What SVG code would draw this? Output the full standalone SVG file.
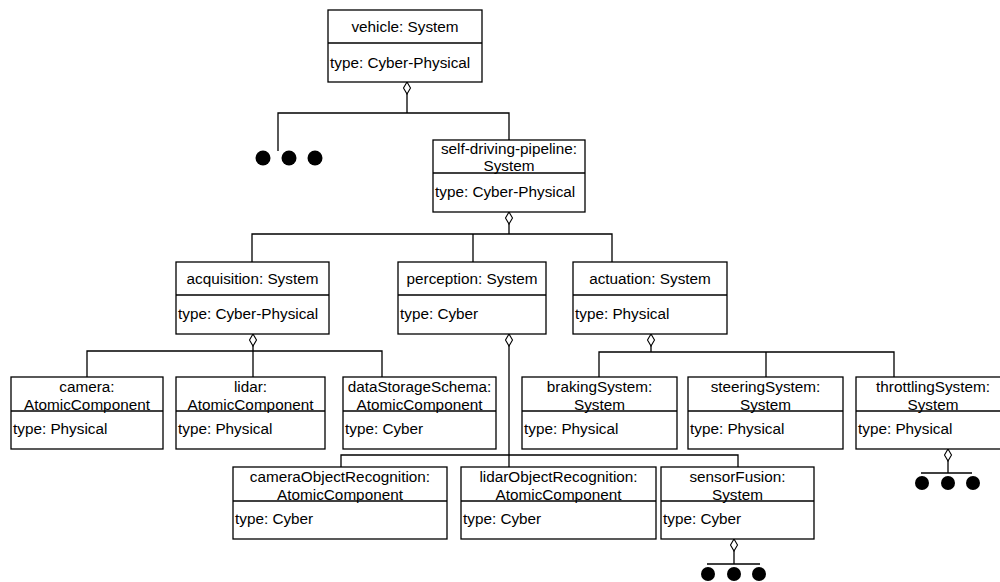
<svg xmlns="http://www.w3.org/2000/svg" width="1000" height="582" viewBox="0 0 1000 582">
<style>
  .box { fill: #ffffff; stroke: #000000; stroke-width: 1.3; }
  .div { stroke: #000000; stroke-width: 1.3; fill: none; }
  .hd { font-family: "Liberation Sans", Arial, Helvetica, sans-serif; font-size: 15.3px; fill: #000000; text-anchor: middle; }
  .at { font-family: "Liberation Sans", Arial, Helvetica, sans-serif; font-size: 15.3px; fill: #000000; text-anchor: start; }
  .ln { stroke: #000000; stroke-width: 1.3; fill: none; }
  .agg { stroke: #000000; stroke-width: 1.3; fill: none; marker-start: url(#diamond); }
  .dot { fill: #000000; }
</style>
<defs>
  <marker id="diamond" viewBox="-1 -1 14 9" refX="0" refY="3.5" markerWidth="14" markerHeight="9" markerUnits="userSpaceOnUse" orient="auto">
    <path d="M0 3.5 L6 0 L12 3.5 L6 7 Z" fill="#ffffff" stroke="#000000" stroke-width="1.1"/>
  </marker>
</defs>

<g id="connectors">
  <path class="agg" d="M407 82 V113"/>
  <path class="ln" d="M278 151 V113 H509 V140"/>
  <path class="agg" d="M509 212 V234"/>
  <path class="ln" d="M252 262 V234 H612 V262"/>
  <path class="ln" d="M473 234 V262"/>
  <path class="agg" d="M253 334 V351"/>
  <path class="ln" d="M87 377 V351 H382 V377"/>
  <path class="ln" d="M253 351 V377"/>
  <path class="agg" d="M509 334 V467"/>
  <path class="ln" d="M341 467 V455 H738 V467"/>
  <path class="agg" d="M651 334 V352"/>
  <path class="ln" d="M599 377 V352 H894 V377"/>
  <path class="ln" d="M766 352 V377"/>
  <path class="agg" d="M734 539 V564"/>
  <path class="ln" d="M707 564 H760"/>
  <path class="agg" d="M948 449 V473"/>
  <path class="ln" d="M921 473 H972"/>
</g>

<g id="more-vehicle">
  <circle class="dot" cx="263" cy="158" r="7.5"/>
  <circle class="dot" cx="289" cy="158" r="7.5"/>
  <circle class="dot" cx="315" cy="158" r="7.5"/>
</g>
<g id="more-sensorFusion">
  <circle class="dot" cx="708" cy="574" r="7"/>
  <circle class="dot" cx="734" cy="574" r="7"/>
  <circle class="dot" cx="759" cy="574" r="7"/>
</g>
<g id="more-throttling">
  <circle class="dot" cx="922" cy="483" r="7"/>
  <circle class="dot" cx="948" cy="483" r="7"/>
  <circle class="dot" cx="973" cy="483" r="7"/>
</g>

<g id="vehicle">
  <rect class="box" x="328" y="10" width="154" height="72"/>
  <line class="div" x1="328" y1="43" x2="482" y2="43"/>
  <text class="hd" x="405" y="32">vehicle: System</text>
  <text class="at" x="330" y="67.5">type: Cyber-Physical</text>
</g>

<g id="self-driving-pipeline">
  <rect class="box" x="433" y="140" width="152" height="72"/>
  <line class="div" x1="433" y1="173" x2="585" y2="173"/>
  <text class="hd" x="509" y="154">self-driving-pipeline:</text>
  <text class="hd" x="509" y="171">System</text>
  <text class="at" x="435" y="197">type: Cyber-Physical</text>
</g>

<g id="acquisition">
  <rect class="box" x="176" y="262" width="153" height="72"/>
  <line class="div" x1="176" y1="295" x2="329" y2="295"/>
  <text class="hd" x="252.5" y="284">acquisition: System</text>
  <text class="at" x="178" y="318.5">type: Cyber-Physical</text>
</g>

<g id="perception">
  <rect class="box" x="398" y="262" width="148" height="72"/>
  <line class="div" x1="398" y1="295" x2="546" y2="295"/>
  <text class="hd" x="472" y="284">perception: System</text>
  <text class="at" x="400" y="318.5">type: Cyber</text>
</g>

<g id="actuation">
  <rect class="box" x="573" y="262" width="154" height="72"/>
  <line class="div" x1="573" y1="295" x2="727" y2="295"/>
  <text class="hd" x="650" y="284">actuation: System</text>
  <text class="at" x="575" y="318.5">type: Physical</text>
</g>

<g id="camera">
  <rect class="box" x="11" y="377" width="152" height="72"/>
  <line class="div" x1="11" y1="411" x2="163" y2="411"/>
  <text class="hd" x="87" y="392">camera:</text>
  <text class="hd" x="87" y="409.5">AtomicComponent</text>
  <text class="at" x="13" y="433.5">type: Physical</text>
</g>

<g id="lidar">
  <rect class="box" x="176" y="377" width="149" height="72"/>
  <line class="div" x1="176" y1="411" x2="325" y2="411"/>
  <text class="hd" x="250.5" y="392">lidar:</text>
  <text class="hd" x="250.5" y="409.5">AtomicComponent</text>
  <text class="at" x="178" y="433.5">type: Physical</text>
</g>

<g id="dataStorageSchema">
  <rect class="box" x="343" y="377" width="153" height="72"/>
  <line class="div" x1="343" y1="411" x2="496" y2="411"/>
  <text class="hd" x="419.5" y="392">dataStorageSchema:</text>
  <text class="hd" x="419.5" y="409.5">AtomicComponent</text>
  <text class="at" x="345" y="433.5">type: Cyber</text>
</g>

<g id="brakingSystem">
  <rect class="box" x="522" y="377" width="155" height="72"/>
  <line class="div" x1="522" y1="411" x2="677" y2="411"/>
  <text class="hd" x="599.5" y="392">brakingSystem:</text>
  <text class="hd" x="599.5" y="409.5">System</text>
  <text class="at" x="524" y="433.5">type: Physical</text>
</g>

<g id="steeringSystem">
  <rect class="box" x="688" y="377" width="155" height="72"/>
  <line class="div" x1="688" y1="411" x2="843" y2="411"/>
  <text class="hd" x="765.5" y="392">steeringSystem:</text>
  <text class="hd" x="765.5" y="409.5">System</text>
  <text class="at" x="690" y="433.5">type: Physical</text>
</g>

<g id="throttlingSystem">
  <rect class="box" x="856" y="377" width="155" height="72"/>
  <line class="div" x1="856" y1="411" x2="1011" y2="411"/>
  <text class="hd" x="933" y="392">throttlingSystem:</text>
  <text class="hd" x="933" y="409.5">System</text>
  <text class="at" x="858" y="433.5">type: Physical</text>
</g>

<g id="cameraObjectRecognition">
  <rect class="box" x="233" y="467" width="214" height="72"/>
  <line class="div" x1="233" y1="501" x2="447" y2="501"/>
  <text class="hd" x="340" y="482">cameraObjectRecognition:</text>
  <text class="hd" x="340" y="499.5">AtomicComponent</text>
  <text class="at" x="235" y="523.5">type: Cyber</text>
</g>

<g id="lidarObjectRecognition">
  <rect class="box" x="461" y="467" width="195" height="72"/>
  <line class="div" x1="461" y1="501" x2="656" y2="501"/>
  <text class="hd" x="558.5" y="482">lidarObjectRecognition:</text>
  <text class="hd" x="558.5" y="499.5">AtomicComponent</text>
  <text class="at" x="463" y="523.5">type: Cyber</text>
</g>

<g id="sensorFusion">
  <rect class="box" x="661" y="467" width="153" height="72"/>
  <line class="div" x1="661" y1="501" x2="814" y2="501"/>
  <text class="hd" x="737.5" y="482">sensorFusion:</text>
  <text class="hd" x="737.5" y="499.5">System</text>
  <text class="at" x="663" y="523.5">type: Cyber</text>
</g>
</svg>
